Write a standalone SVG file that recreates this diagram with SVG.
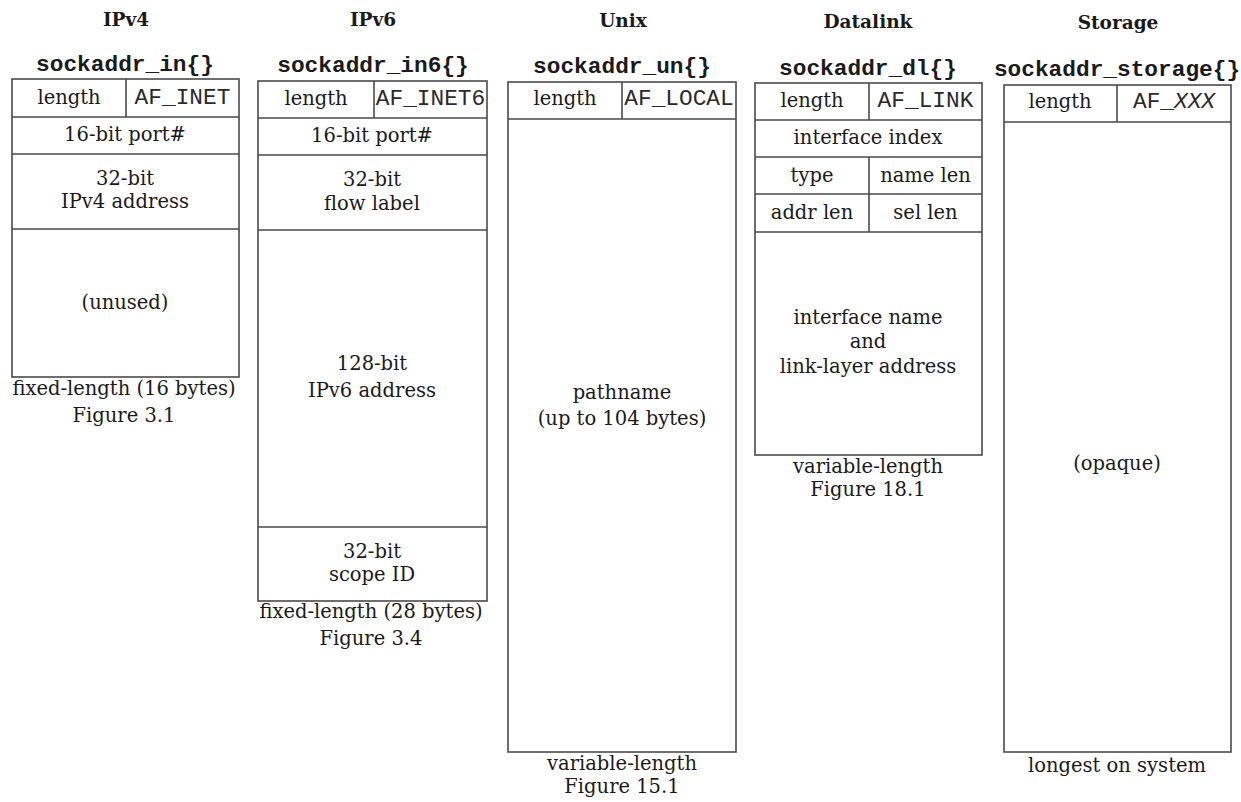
<svg xmlns="http://www.w3.org/2000/svg" width="1241" height="802" viewBox="0 0 1241 802">
<style>
.bg{fill:#ffffff}
.box{fill:none;stroke:#4a4a4a;stroke-width:1.6}
.ln{stroke:#4a4a4a;stroke-width:1.6}
.t{font-family:"DejaVu Serif","Liberation Serif",serif;font-size:19.5px;fill:#1a1a1a;text-anchor:middle}
.h{font-family:"DejaVu Serif","Liberation Serif",serif;font-size:18.5px;font-weight:bold;fill:#1a1a1a;text-anchor:middle}
.m{font-family:"Liberation Mono","DejaVu Sans Mono",monospace;font-size:22.8px;fill:#2a2a2a;text-anchor:middle}
.mb{font-family:"Liberation Mono","DejaVu Sans Mono",monospace;font-size:22.8px;font-weight:bold;fill:#1a1a1a;text-anchor:middle}
</style>
<rect class="bg" x="0" y="0" width="1241" height="802"/>

<g id="ipv4">
<text class="h" x="126" y="26">IPv4</text>
<text class="mb" x="125" y="71">sockaddr_in{}</text>
<rect class="box" x="12" y="79" width="227" height="298"/>
<line class="ln" x1="126" y1="79" x2="126" y2="117"/>
<line class="ln" x1="12" y1="117" x2="239" y2="117"/>
<line class="ln" x1="12" y1="154" x2="239" y2="154"/>
<line class="ln" x1="12" y1="229" x2="239" y2="229"/>
<text class="t" x="69" y="104">length</text>
<text class="m" x="182.5" y="104">AF_INET</text>
<text class="t" x="125" y="141">16-bit port#</text>
<text class="t" x="125" y="185">32-bit</text>
<text class="t" x="125" y="208">IPv4 address</text>
<text class="t" x="125" y="309">(unused)</text>
<text class="t" x="124" y="395">fixed-length (16 bytes)</text>
<text class="t" x="124" y="422">Figure 3.1</text>
</g>

<g id="ipv6">
<text class="h" x="373" y="26">IPv6</text>
<text class="mb" x="373" y="72">sockaddr_in6{}</text>
<rect class="box" x="258" y="81" width="229" height="520"/>
<line class="ln" x1="374" y1="81" x2="374" y2="118"/>
<line class="ln" x1="258" y1="118" x2="487" y2="118"/>
<line class="ln" x1="258" y1="155" x2="487" y2="155"/>
<line class="ln" x1="258" y1="230" x2="487" y2="230"/>
<line class="ln" x1="258" y1="527" x2="487" y2="527"/>
<text class="t" x="316" y="105">length</text>
<text class="m" x="430.5" y="105">AF_INET6</text>
<text class="t" x="372" y="142">16-bit port#</text>
<text class="t" x="372" y="186">32-bit</text>
<text class="t" x="372" y="210">flow label</text>
<text class="t" x="372" y="370">128-bit</text>
<text class="t" x="372" y="397">IPv6 address</text>
<text class="t" x="372" y="558">32-bit</text>
<text class="t" x="372" y="581">scope ID</text>
<text class="t" x="371" y="618">fixed-length (28 bytes)</text>
<text class="t" x="371" y="645">Figure 3.4</text>
</g>

<g id="unix">
<text class="h" x="623" y="27">Unix</text>
<text class="mb" x="622" y="73">sockaddr_un{}</text>
<rect class="box" x="508" y="82" width="228" height="670"/>
<line class="ln" x1="622" y1="82" x2="622" y2="119"/>
<line class="ln" x1="508" y1="119" x2="736" y2="119"/>
<text class="t" x="565" y="105">length</text>
<text class="m" x="679" y="105">AF_LOCAL</text>
<text class="t" x="622" y="399">pathname</text>
<text class="t" x="622" y="425">(up to 104 bytes)</text>
<text class="t" x="622" y="770">variable-length</text>
<text class="t" x="622" y="793">Figure 15.1</text>
</g>

<g id="datalink">
<text class="h" x="868" y="28">Datalink</text>
<text class="mb" x="868" y="75">sockaddr_dl{}</text>
<rect class="box" x="755" y="83" width="227" height="372"/>
<line class="ln" x1="869" y1="83" x2="869" y2="120"/>
<line class="ln" x1="755" y1="120" x2="982" y2="120"/>
<line class="ln" x1="755" y1="157" x2="982" y2="157"/>
<line class="ln" x1="869" y1="157" x2="869" y2="232"/>
<line class="ln" x1="755" y1="194" x2="982" y2="194"/>
<line class="ln" x1="755" y1="232" x2="982" y2="232"/>
<text class="t" x="812" y="107">length</text>
<text class="m" x="925.5" y="107">AF_LINK</text>
<text class="t" x="868" y="144">interface index</text>
<text class="t" x="812" y="182">type</text>
<text class="t" x="925.5" y="182">name len</text>
<text class="t" x="812" y="219">addr len</text>
<text class="t" x="925.5" y="219">sel len</text>
<text class="t" x="868" y="324">interface name</text>
<text class="t" x="868" y="348">and</text>
<text class="t" x="868" y="373">link-layer address</text>
<text class="t" x="868" y="473">variable-length</text>
<text class="t" x="868" y="496">Figure 18.1</text>
</g>

<g id="storage">
<text class="h" x="1118" y="29">Storage</text>
<text class="mb" x="1117" y="76">sockaddr_storage{}</text>
<rect class="box" x="1004" y="85" width="227" height="667"/>
<line class="ln" x1="1117" y1="85" x2="1117" y2="122"/>
<line class="ln" x1="1004" y1="122" x2="1231" y2="122"/>
<text class="t" x="1060" y="108">length</text>
<text class="m" x="1174" y="108">AF_<tspan font-style="italic">XXX</tspan></text>
<text class="t" x="1117" y="470">(opaque)</text>
<text class="t" x="1117" y="772">longest on system</text>
</g>

<g id="connectors"></g>
</svg>
